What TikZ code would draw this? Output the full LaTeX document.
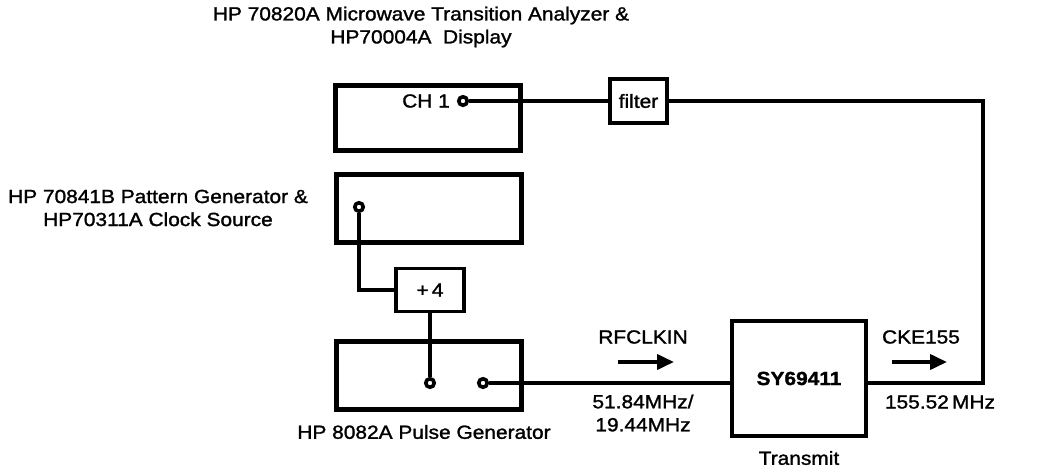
\documentclass[tikz,border=0pt]{standalone}
\usepackage{fontspec}
\setmainfont{Liberation Sans}[FakeStretch=1.1, FakeBold=1.4]
\usetikzlibrary{arrows.meta}
\newcommand\myfs{\fontsize{19}{23}\selectfont}
\begin{document}
\begin{tikzpicture}[x=1pt,y=-1pt,
 inst/.style={draw, line width=5pt, minimum width=185pt, minimum height=68pt, inner sep=0},
 smallbox/.style={draw, line width=3.6pt, inner sep=0, font=\myfs},
 port/.style={circle, draw, line width=3.6pt, minimum size=8.5pt, inner sep=0, fill=white},
 wire/.style={line width=3.2pt},
 lbl/.style={font=\myfs, inner sep=0, align=center},
 sig/.style={-{Triangle[length=17pt,width=15pt]}, line width=3.8pt}]
\useasboundingbox (0,0) rectangle (1038,470);
% instruments
\node[inst, minimum height=65pt] (mta) at (428,118) {};
\node[inst] (pg) at (429,208.5) {};
\node[inst] (pulse) at (429,375.5) {};
% ports
\node[port] (ch1) at (463,101) {};
\node[lbl, anchor=east] (ch1t) at (450,101) {CH 1};
\node[port] (pgp) at (359,207) {};
\node[port] (pp1) at (430,383) {};
\node[port] (pp2) at (483,383) {};
% boxes
\node[smallbox, minimum width=57pt, minimum height=44pt] (filt) at (638.5,101) {filter};
\node[smallbox, minimum width=68pt, minimum height=43pt] (div) at (430,290) {+\,4};
\node[draw, line width=3.6pt, minimum width=134pt, minimum height=115pt, inner sep=0, font=\myfs\bfseries] (sy) at (799,378.5) {SY69411};
\coordinate (c1) at (983,240);
% labels
\node[lbl] (title) at (421,27) {HP 70820A Microwave Transition Analyzer \&\\HP70004A\ \ Display};
\node[lbl] (pglbl) at (158,208) {HP 70841B Pattern Generator \&\\HP70311A Clock Source};
\node[lbl] (pulselbl) at (424,432) {HP 8082A Pulse Generator};
\node[lbl] (trans) at (799,458) {Transmit};
\node[lbl] (rf) at (643,337) {RFCLKIN};
\node[lbl] (rff) at (643,413) {51.84MHz/\\19.44MHz};
\node[lbl] (cke) at (921,337) {CKE155};
\node[lbl] (ckef) at (940,402) {155.52\,MHz};
% wires
\draw[wire] (ch1) -- (filt.west);
\draw[wire] (filt.east) -| (c1) |- (sy.east |- pp2);
\draw[wire] (pp2) -- (pp2 -| sy.west);
\draw[wire] (pgp) |- (div.west);
\draw[wire] (div.south) -- (pp1);
% arrows
\coordinate (a1s) at (618,362);
\coordinate (a1e) at (674,362);
\coordinate (a2s) at (892,362);
\coordinate (a2e) at (947,362);
\draw[sig] (a1s) -- (a1e);
\draw[sig] (a2s) -- (a2e);
\end{tikzpicture}
\end{document}
